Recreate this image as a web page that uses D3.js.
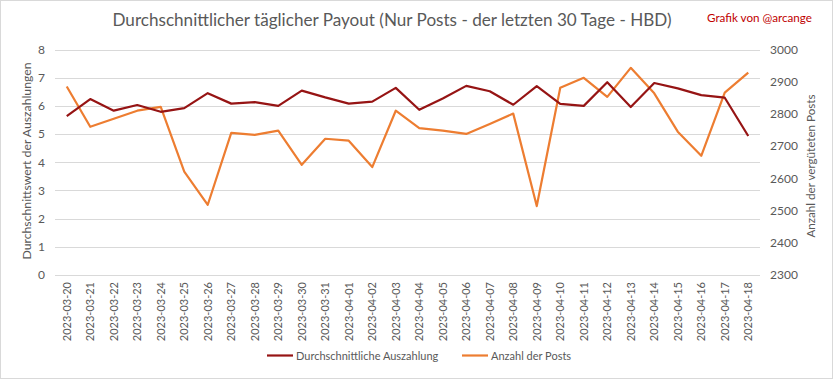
<!DOCTYPE html>
<html><head><meta charset="utf-8">
<script src="https://cdn.jsdelivr.net/npm/d3@7"></script>
<style>body{margin:0;background:#fff}svg{display:block;font-family:Lato,"Open Sans",sans-serif}</style>
</head><body><svg id="c" width="833" height="379"></svg>
<script>
const dates = ["2023-03-20","2023-03-21","2023-03-22","2023-03-23","2023-03-24","2023-03-25","2023-03-26","2023-03-27","2023-03-28","2023-03-29","2023-03-30","2023-03-31","2023-04-01","2023-04-02","2023-04-03","2023-04-04","2023-04-05","2023-04-06","2023-04-07","2023-04-08","2023-04-09","2023-04-10","2023-04-11","2023-04-12","2023-04-13","2023-04-14","2023-04-15","2023-04-16","2023-04-17","2023-04-18"];
const avgPayout = [5.64,6.24,5.83,6.03,5.79,5.92,6.45,6.08,6.13,6.00,6.54,6.30,6.08,6.15,6.64,5.86,6.26,6.71,6.52,6.04,6.70,6.07,6.00,6.84,5.96,6.81,6.62,6.38,6.29,4.93];
const postCount = [2885,2760,2785,2810,2822,2621,2518,2741,2735,2748,2642,2723,2717,2635,2810,2756,2748,2738,2769,2801,2514,2881,2912,2853,2943,2864,2745,2670,2866,2928];
const leftTicks = [0,1,2,3,4,5,6,7,8];
const rightTicks = [2300,2400,2500,2600,2700,2800,2900,3000];
const seriesNames = ["Durchschnittliche Auszahlung","Anzahl der Posts"];
const colors = ["#961414","#ED7D31"];

const svg = d3.select("#c");
svg.append("rect").attr("x",0.5).attr("y",0.5).attr("width",832).attr("height",378).attr("fill","#fff").attr("stroke","#d9d9d9");

const L=55, R=760, T=49.5, B=275;
const x = d3.scaleBand().domain(dates).range([L,R]);
const yL = d3.scaleLinear().domain([0,8]).range([B,T]);
const yR = d3.scaleLinear().domain([2300,3000]).range([B,T]);
const txt = "#595959";

// gridlines
svg.append("g").selectAll("line").data(leftTicks).join("line")
  .attr("x1",L).attr("x2",R).attr("y1",d=>Math.round(yL(d))+0.5).attr("y2",d=>Math.round(yL(d))+0.5)
  .attr("stroke","#d9d9d9").attr("stroke-width",1);

// left axis
const gl = svg.append("g").attr("transform",`translate(${L},0)`)
  .call(d3.axisLeft(yL).tickValues(leftTicks).tickSize(0).tickPadding(10).tickFormat(d3.format("d")));
gl.select(".domain").remove();
gl.selectAll("text").attr("fill",txt).attr("font-size",12).attr("font-family","Lato, sans-serif");

// right axis
const gr = svg.append("g").attr("transform",`translate(${R},0)`)
  .call(d3.axisRight(yR).tickValues(rightTicks).tickSize(0).tickPadding(10).tickFormat(d3.format("d")));
gr.select(".domain").remove();
gr.selectAll("text").attr("fill",txt).attr("font-size",12).attr("font-family","Lato, sans-serif");

// x axis
const gx = svg.append("g").attr("transform",`translate(0,${B})`)
  .call(d3.axisBottom(x).tickSize(0).tickPadding(0));
gx.select(".domain").remove();
gx.selectAll("text").attr("fill",txt).attr("font-size",11).attr("font-family","Lato, sans-serif")
  .attr("text-anchor","end").attr("dy","0.35em")
  .attr("transform","translate(0,7) rotate(-90)").attr("x",0).attr("y",0);

// lines
const lineL = d3.line().x((d,i)=>x(dates[i])+x.bandwidth()/2).y(d=>yL(d));
const lineR = d3.line().x((d,i)=>x(dates[i])+x.bandwidth()/2).y(d=>yR(d));
svg.append("path").datum(postCount).attr("d",lineR).attr("fill","none").attr("stroke",colors[1]).attr("stroke-width",2.2).attr("stroke-linejoin","round");
svg.append("path").datum(avgPayout).attr("d",lineL).attr("fill","none").attr("stroke",colors[0]).attr("stroke-width",2.2).attr("stroke-linejoin","round");

// title
svg.append("text").attr("x",392).attr("y",26).attr("text-anchor","middle").attr("fill",txt)
  .attr("font-size",17).text("Durchschnittlicher täglicher Payout (Nur Posts - der letzten 30 Tage - HBD)")
  .attr("textLength",559).attr("lengthAdjust","spacingAndGlyphs");
svg.append("text").attr("x",812).attr("y",22).attr("text-anchor","end").attr("fill","#C00000")
  .attr("font-size",12).text("Grafik von @arcange").attr("textLength",105).attr("lengthAdjust","spacingAndGlyphs");

// axis titles
svg.append("text").attr("transform",`translate(31,161) rotate(-90)`).attr("text-anchor","middle")
  .attr("fill",txt).attr("font-size",12).text("Durchschnittswert der Auszahlungen").attr("textLength",197).attr("lengthAdjust","spacingAndGlyphs");
svg.append("text").attr("transform",`translate(815,166) rotate(-90)`).attr("text-anchor","middle")
  .attr("fill",txt).attr("font-size",12).text("Anzahl der  vergüteten  Posts").attr("textLength",143).attr("lengthAdjust","spacingAndGlyphs");

// legend
const leg = [{x:267,name:seriesNames[0],c:colors[0]},{x:462,name:seriesNames[1],c:colors[1]}];
const lg = svg.append("g").selectAll("g").data(leg).join("g");
lg.append("line").attr("x1",d=>d.x).attr("x2",d=>d.x+26).attr("y1",355.5).attr("y2",355.5).attr("stroke",d=>d.c).attr("stroke-width",2.2);
lg.append("text").attr("x",d=>d.x+29).attr("y",359.5).attr("fill",txt).attr("font-size",11).text(d=>d.name);
</script></body></html>
